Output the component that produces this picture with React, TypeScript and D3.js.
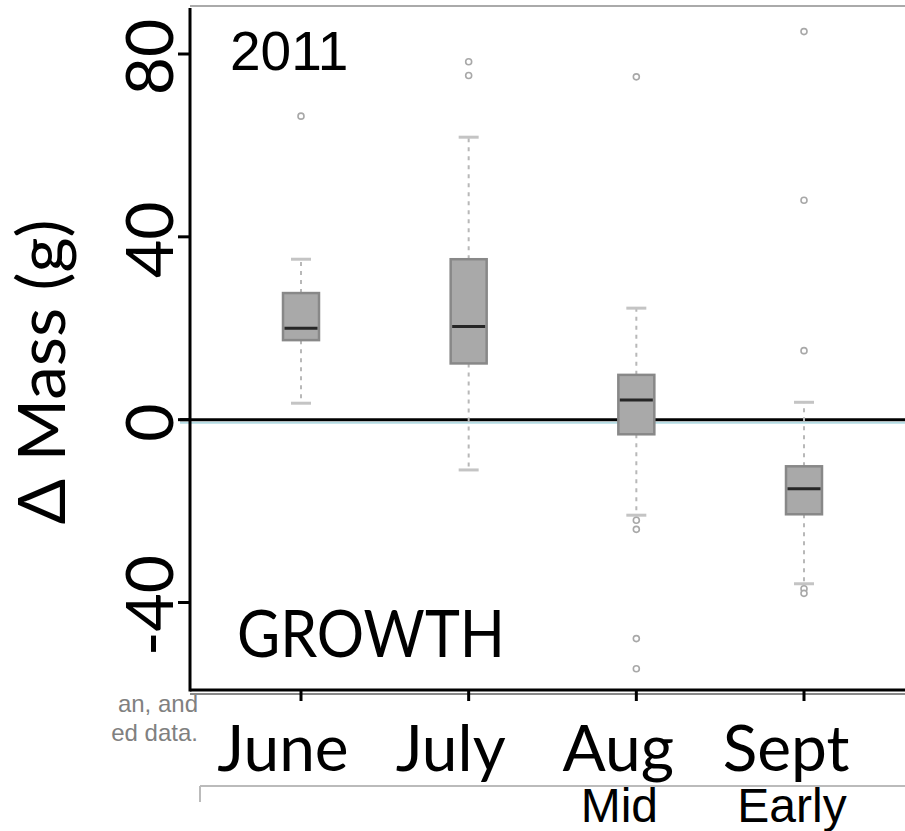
import React from 'react';
import * as d3 from 'd3';

const months = ['June', 'July', 'Aug', 'Sept'];
const subLabels = ['', '', 'Mid', 'Early'];
const subOffsets = [0, 0, -17, -12];
const q1 = [17.4, 12.3, -3.2, -20.7];
const medians = [20.0, 20.4, 4.3, -15.1];
const q3 = [27.7, 35.1, 9.8, -10.2];
const whiskerLow = [3.6, -11.0, -20.9, -35.9];
const whiskerHigh = [35.1, 61.8, 24.4, 3.8];
const outliers = [
  [66.4],
  [78.3, 75.3],
  [75.0, -22.0, -24.0, -47.9, -54.5],
  [84.9, 48.0, 15.1, -37.0, -38.0],
];
const yTicks = [-40, 0, 40, 80];

const W = 905;
const H = 831;
const plotLeft = 190;
const plotRight = 905;
const plotTop = 6;
const plotBottom = 690;

const calibri = "Lato, 'Open Sans', sans-serif";
const arial = "'Liberation Sans', Arial, sans-serif";

export default function App() {
  const y = d3.scaleLinear().domain([-40, 80]).range([602.5, 54]);
  const x = d3.scalePoint<string>().domain(months).range([301, 804]);
  const boxW = 36;
  const capW = 20;

  return (
    <svg width={W} height={H} style={{ position: 'absolute', left: 0, top: 0, background: '#fff' }}>
      {/* top border */}
      <line x1={plotLeft} x2={plotRight} y1={plotTop} y2={plotTop} stroke="#aaa" strokeWidth={2} />
      {/* zero line */}
      <line x1={plotLeft - 10} x2={plotRight} y1={y(0) + 3} y2={y(0) + 3} stroke="#b4dce4" strokeWidth={2} />
      <line x1={plotLeft - 10} x2={plotRight} y1={y(0)} y2={y(0)} stroke="#000" strokeWidth={3} />

      {/* boxes */}
      {months.map((m, i) => {
        const cx = x(m)!;
        return (
          <g key={m}>
            <line x1={cx} x2={cx} y1={y(q3[i])} y2={y(whiskerHigh[i])} stroke="#b8b8b8" strokeWidth={2} strokeDasharray="4,5" />
            <line x1={cx} x2={cx} y1={y(q1[i])} y2={y(whiskerLow[i])} stroke="#b8b8b8" strokeWidth={2} strokeDasharray="4,5" />
            <line x1={cx - capW / 2} x2={cx + capW / 2} y1={y(whiskerHigh[i])} y2={y(whiskerHigh[i])} stroke="#c4c4c4" strokeWidth={3} />
            <line x1={cx - capW / 2} x2={cx + capW / 2} y1={y(whiskerLow[i])} y2={y(whiskerLow[i])} stroke="#c4c4c4" strokeWidth={3} />
            <rect x={cx - boxW / 2} y={y(q3[i])} width={boxW} height={y(q1[i]) - y(q3[i])} fill="#a9a9a9" stroke="#888" strokeWidth={2.5} />
            <line x1={cx - boxW / 2 + 1.5} x2={cx + boxW / 2 - 1.5} y1={y(medians[i])} y2={y(medians[i])} stroke="#262626" strokeWidth={3} />
            {outliers[i].map((v, j) => (
              <circle key={j} cx={cx} cy={y(v)} r={3} fill="#fff" stroke="#a8a8a8" strokeWidth={1.6} />
            ))}
          </g>
        );
      })}

      {/* axes */}
      <line x1={plotLeft} x2={plotRight} y1={plotBottom + 4} y2={plotBottom + 4} stroke="#888" strokeWidth={2} />
      <line x1={plotLeft} x2={plotRight} y1={plotBottom} y2={plotBottom} stroke="#000" strokeWidth={3} />
      <line x1={plotLeft} x2={plotLeft} y1={plotTop + 2} y2={plotBottom + 1.5} stroke="#000" strokeWidth={3} />
      {yTicks.map((t) => (
        <g key={t}>
          <line x1={plotLeft - 12} x2={plotLeft} y1={y(t)} y2={y(t)} stroke="#000" strokeWidth={3} />
          <text
            transform={`translate(173,${y(t) + 3}) rotate(-90)`}
            textAnchor="middle"
            fontFamily={calibri}
            fontSize={66}
            fill="#000"
          >
            {t}
          </text>
        </g>
      ))}
      {months.map((m) => (
        <line key={m} x1={x(m)!} x2={x(m)!} y1={plotBottom} y2={plotBottom + 11} stroke="#000" strokeWidth={3} />
      ))}

      {/* axis title */}
      <text
        transform={`translate(65,372) rotate(-90)`}
        textAnchor="middle"
        fontFamily={calibri}
        fontSize={66}
        textLength={305}
        lengthAdjust="spacingAndGlyphs"
        fill="#000"
      >
        Δ Mass (g)
      </text>

      {/* x labels */}
      {months.map((m) => (
        <text key={m} x={x(m)! - 18} y={771} textAnchor="middle" fontFamily={calibri} fontSize={64} fill="#000">
          {m}
        </text>
      ))}
      {months.map((m, i) =>
        subLabels[i] ? (
          <text key={m + 's'} x={x(m)! + subOffsets[i]} y={822} textAnchor="middle" fontFamily={arial} fontSize={48} fill="#000">
            {subLabels[i]}
          </text>
        ) : null
      )}
      {/* bracket line under labels */}
      <line x1={200} x2={905} y1={786} y2={786} stroke="#bbb" strokeWidth={2} />
      <line x1={200} x2={200} y1={786} y2={802} stroke="#bbb" strokeWidth={2} />

      {/* annotations */}
      <text x={230} y={70} fontFamily={arial} fontSize={55} fill="#000">2011</text>
      <text x={237} y={657} fontFamily={calibri} fontSize={66} textLength={268} lengthAdjust="spacingAndGlyphs" fill="#000">
        GROWTH
      </text>

      {/* cropped caption text */}
      <text x={198} y={712} textAnchor="end" fontFamily={arial} fontSize={24} fill="#808080">an, and</text>
      <text x={198} y={741} textAnchor="end" fontFamily={arial} fontSize={24} fill="#808080">ed data.</text>
    </svg>
  );
}
